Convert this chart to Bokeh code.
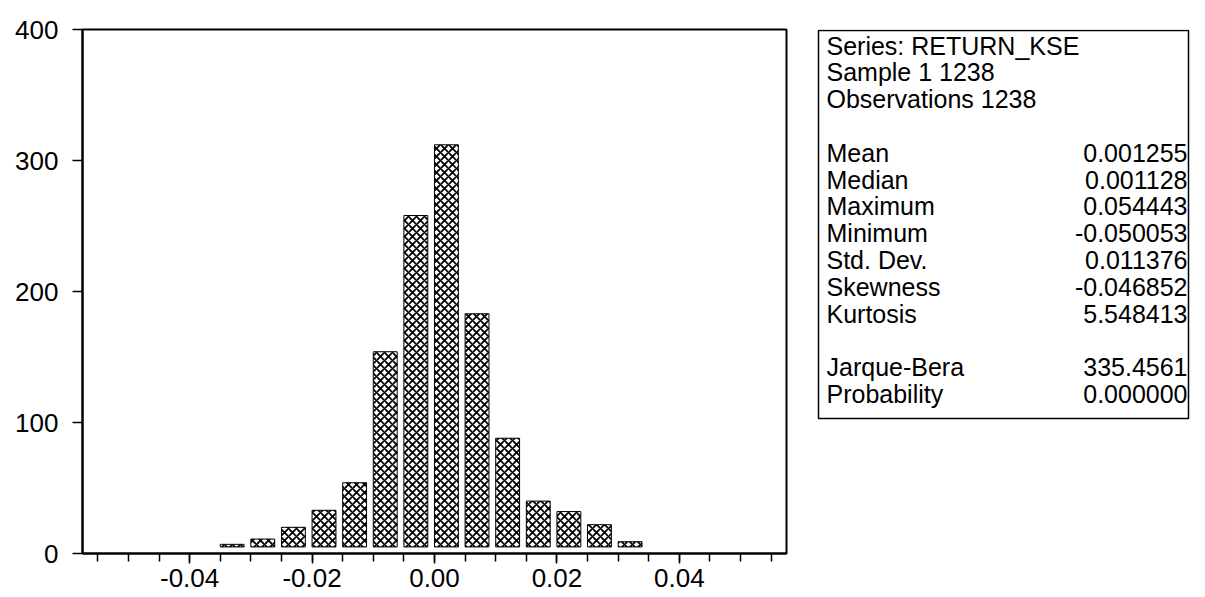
from bokeh.plotting import figure
from bokeh.layouts import row
from bokeh.models import Range1d, FixedTicker, NumeralTickFormatter
from bokeh.core.properties import value
from bokeh.embed import file_html
from bokeh.resources import INLINE

# ---- data ----
bin_left = [-0.035, -0.030, -0.025, -0.020, -0.015, -0.010, -0.005,
            0.000, 0.005, 0.010, 0.015, 0.020, 0.025, 0.030]
counts = [7, 11, 20, 33, 54, 154, 258, 312, 183, 88, 40, 32, 22, 9]
x_major_ticks = [-0.04, -0.02, 0.0, 0.02, 0.04]
x_tick_labels = ["-0.04", "-0.02", "0.00", "0.02", "0.04"]
y_ticks = [0, 100, 200, 300, 400]
y_tick_labels = ["0", "100", "200", "300", "400"]
header_lines = ["Series: RETURN_KSE", "Sample 1 1238", "Observations 1238"]
stat_names = ["Mean", "Median", "Maximum", "Minimum", "Std. Dev.",
              "Skewness", "Kurtosis", "Jarque-Bera", "Probability"]
stat_values = ["0.001255", "0.001128", "0.054443", "-0.050053", "0.011376",
               "-0.046852", "5.548413", "335.4561", "0.000000"]

# ---- style / layout constants ----
BIN_WIDTH = 0.005
BAR_FRACTION = 0.78
BASE = 5
FONT = "Liberation Sans"
W_MAIN, W_STATS, H = 808, 397, 597
FRAME_TOP, FRAME_BOTTOM = 29, 553

bar_right = [b + BIN_WIDTH * BAR_FRACTION for b in bin_left]
minor = [round(-0.055 + BIN_WIDTH * i, 3) for i in range(23)]

p = figure(width=W_MAIN, height=H,
           x_range=Range1d(-0.0575, 0.0575), y_range=Range1d(0, 400),
           output_backend="svg", toolbar_location=None,
           min_border_left=82, min_border_top=FRAME_TOP, min_border_right=22,
           min_border_bottom=H - FRAME_BOTTOM)
p.grid.visible = False
p.outline_line_color = "black"
p.outline_line_width = 2
p.background_fill_color = "white"
p.border_fill_color = "white"

p.quad(left=bin_left, right=bar_right, bottom=BASE, top=counts,
       fill_color="white", line_color="black", line_width=1,
       hatch_pattern="diagonal_cross", hatch_color="black",
       hatch_scale=8, hatch_weight=1.8)

xa = p.xaxis[0]
xa.ticker = FixedTicker(ticks=x_major_ticks, minor_ticks=minor)
xa.formatter = NumeralTickFormatter(format="0.00")
xa.major_label_overrides = {t: l for t, l in zip(x_major_ticks, x_tick_labels)}
xa.major_tick_out = 10
xa.major_tick_in = 0
xa.minor_tick_out = 8
xa.minor_tick_in = 0
xa.major_label_standoff = 5

ya = p.yaxis[0]
ya.ticker = FixedTicker(ticks=y_ticks, minor_ticks=[])
ya.major_label_overrides = {t: l for t, l in zip(y_ticks, y_tick_labels)}
ya.major_tick_out = 10
ya.major_tick_in = 0
ya.major_label_standoff = 14
ya.major_label_text_baseline = "alphabetic"

for ax in (xa, ya):
    ax.axis_line_width = 2
    ax.axis_line_color = "black"
    ax.major_tick_line_color = "black"
    ax.major_tick_line_width = 1.5
    ax.minor_tick_line_color = "black"
    ax.minor_tick_line_width = 1.5
    ax.major_label_text_font = FONT
    ax.major_label_text_font_size = "26px"
    ax.major_label_text_color = "black"

# ---- statistics panel (ranges in page pixels) ----
s = figure(width=W_STATS, height=H, x_range=Range1d(W_MAIN, W_MAIN + W_STATS),
           y_range=Range1d(FRAME_BOTTOM, FRAME_TOP), output_backend="svg",
           toolbar_location=None, x_axis_type=None, y_axis_type=None,
           min_border_left=0, min_border_right=0,
           min_border_top=FRAME_TOP, min_border_bottom=H - FRAME_BOTTOM)
s.grid.visible = False
s.outline_line_color = None
s.background_fill_color = "white"
s.border_fill_color = "white"

s.quad(left=[818], right=[1188], top=[30], bottom=[418],
       fill_color=None, line_color="black", line_width=1.5)

TOP_Y = 45
STEP = 26.8
TEXT_X, VALUE_X = 826, 1187
header_rows = [0, 1, 2]
stat_rows = [4, 5, 6, 7, 8, 9, 10, 12, 13]
common = dict(text_font=value(FONT), text_font_size="25px",
              text_baseline="middle", text_color="black")
s.text(x=[TEXT_X] * len(header_lines), y=[TOP_Y + STEP * r for r in header_rows],
       text=header_lines, text_align="left", **common)
s.text(x=[TEXT_X] * len(stat_names), y=[TOP_Y + STEP * r for r in stat_rows],
       text=stat_names, text_align="left", **common)
s.text(x=[VALUE_X] * len(stat_values), y=[TOP_Y + STEP * r for r in stat_rows],
       text=stat_values, text_align="right", **common)

layout = row(p, s)
open("out.html", "w").write(file_html(layout, INLINE))
